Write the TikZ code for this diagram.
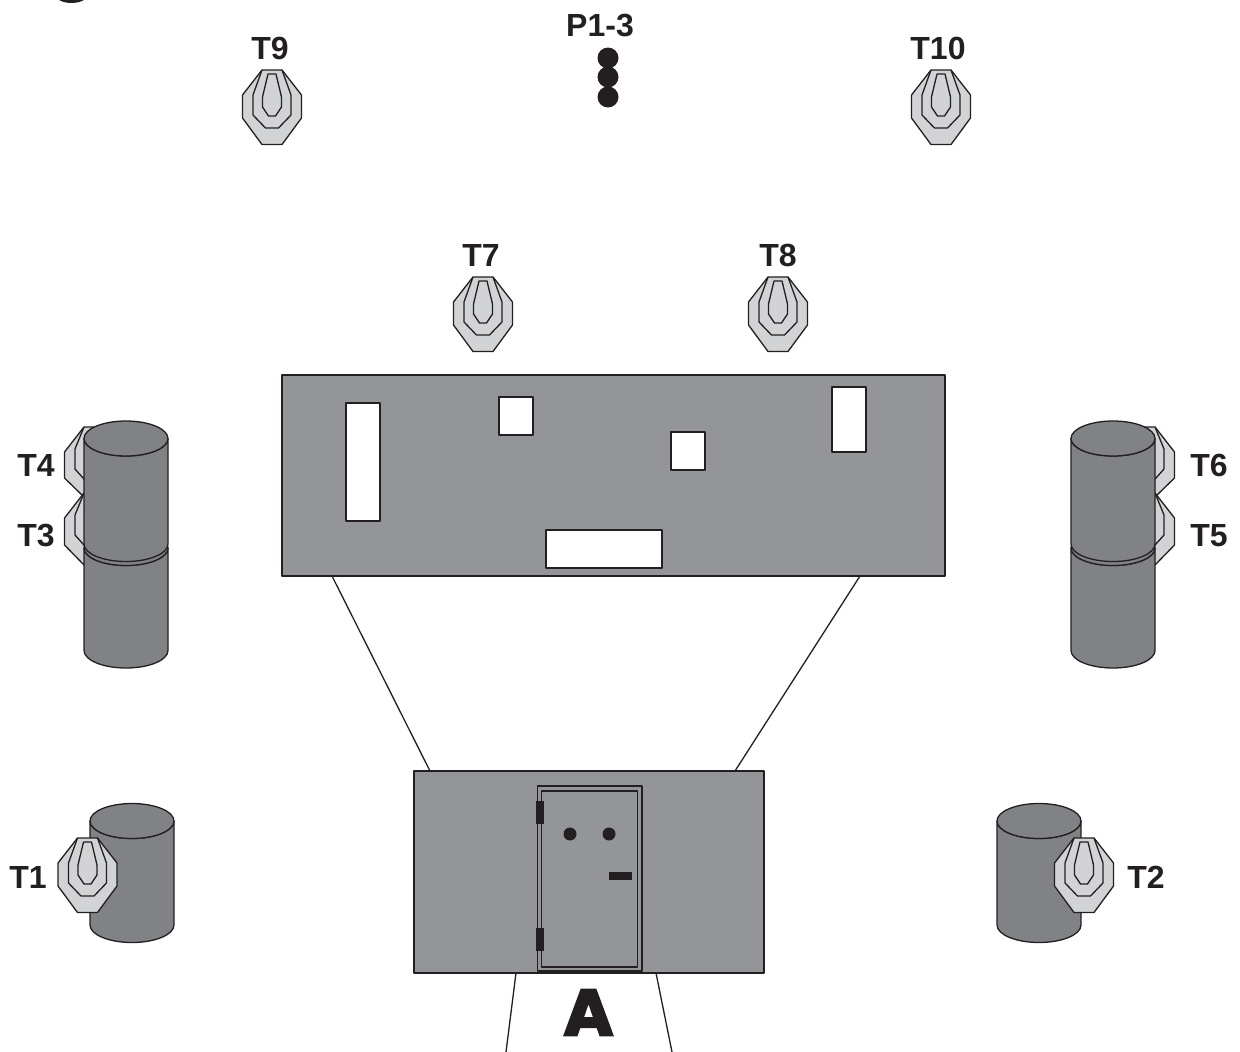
\documentclass[tikz,border=0pt]{standalone}
\usepackage{fontspec}
\setmainfont{Liberation Sans}
\newfontfamily\heavyA{DejaVu Sans}[UprightFont=* Bold,FakeBold=4]
\definecolor{ink}{HTML}{231F20}
\definecolor{wallgray}{HTML}{939598}
\definecolor{drumgray}{HTML}{808285}
\definecolor{targetgray}{HTML}{D1D3D4}
\tikzset{
  outline/.style={draw=ink,line width=1.3pt,line join=round},
  wall/.style={outline,fill=wallgray},
  window/.style={outline,fill=white},
  drum/.style={outline,fill=drumgray},
  label/.style={font=\bfseries\fontsize{32}{32}\selectfont,text=ink,inner sep=0pt,anchor=center},
  shooter/.style={fill=ink},
  target/.pic={
    \draw[outline,fill=targetgray] (-10,0)--(10,0)--(29.5,25)--(29.5,48)--(10,74.5)--(-10,74.5)--(-29.5,48)--(-29.5,25)--cycle;
    \draw[outline] (-10,0)--(-19,25)--(-19,45)--(-6.5,58)--(6.5,58)--(19,45)--(19,25)--(10,0);
    \draw[outline] (-4,4)--(4,4)--(9.5,27)--(9.5,37)--(3.5,46)--(-3.5,46)--(-9.5,37)--(-9.5,27)--cycle;
  }
}
% x, top of ellipse centre y, bottom ellipse centre y
\newcommand{\drumshape}[3]{%
  \draw[drum] (#1,#2) arc [start angle=180,end angle=360,x radius=42pt,y radius=17.5pt]
     -- (#1+84,#3) arc [start angle=360,end angle=180,x radius=42pt,y radius=17.5pt] -- cycle;
  \draw[drum] (#1+42,#2) ellipse [x radius=42pt,y radius=17.5pt];
}
% partly hidden target: centre x, top y, end of the straight side, bottom
\newcommand{\hiddentarget}[4]{%
  \begin{scope}[shift={(#1,#2)}]
    \draw[outline,fill=targetgray] (-10,0)--(10,0)--(29.5,25)--(29.5,#3)--(10,#4)--(-10,#4)--(-29.5,#3)--(-29.5,25)--cycle;
    \draw[outline] (-10,0)--(-19,22)--(-19,42)--(-6.5,56)--(6.5,56)--(19,42)--(19,22)--(10,0);
  \end{scope}
}
\begin{document}
\begin{tikzpicture}[x=1pt,y=-1pt]
\useasboundingbox (0,0) rectangle (1240,1052);
% fragment at the top edge
\fill[ink] (59,0) .. controls (66,4) and (77,4) .. (84,0) -- cycle;
% top row
\pic at (272,70) {target};
\pic at (941,70) {target};
\node[label] (t9) at (270,48) {T9};
\node[label] (t10) at (938,48) {T10};
\node[label] (p13) at (600,26) {P1-3};
\fill[shooter] (608,58) circle [radius=10.5pt] (608,77) circle [radius=10.5pt] (608,97) circle [radius=10.5pt];
% second row
\pic at (483,277) {target};
\pic at (778,277) {target};
\node[label] (t7) at (481,255) {T7};
\node[label] (t8) at (778,255) {T8};
% back wall
\draw[wall] (282,375) rectangle (945,576);
\draw[window] (346,403) rectangle (380,521);
\draw[window] (499,397) rectangle (533,435);
\draw[window] (671,432) rectangle (705,470);
\draw[window] (832,387) rectangle (866,452);
\draw[window] (546,530) rectangle (662,568);
% lines between walls
\draw[outline] (332,576) -- (430,771);
\draw[outline] (860,576) -- (735,771);
\draw[outline] (516,973) -- (506,1052);
\draw[outline] (656,973) -- (672,1052);
% front wall with door
\draw[wall] (414,771) rectangle (764,973);
\draw[outline] (537.5,786) rectangle (642,971);
\draw[outline] (541.7,791) rectangle (637.7,967);
\fill[ink] (536,801) rectangle (544,824);
\fill[ink] (536,928) rectangle (544,951);
\fill[ink] (570,834) circle [radius=6.5pt] (609,834) circle [radius=6.5pt];
\fill[ink] (609,872) rectangle (632,880);
\node[inner sep=0pt,text=ink,font=\heavyA\fontsize{62}{62}\selectfont] (a) at (588.5,1012.5) {A};
% left stack
\hiddentarget{94}{427}{51}{70}
\hiddentarget{94}{493}{52}{72}
\node[label] (t4) at (36,465) {T4};
\node[label] (t3) at (36,536) {T3};
\drumshape{84}{548}{650.5}
\drumshape{84}{438.5}{544}
% right stack
\hiddentarget{1145}{427}{51}{70}
\hiddentarget{1145}{493}{52}{72}
\node[label] (t6) at (1209,465) {T6};
\node[label] (t5) at (1209,536) {T5};
\drumshape{1071}{548}{650.5}
\drumshape{1071}{438.5}{544}
% lower drums
\drumshape{90}{821}{925}
\drumshape{997}{821}{925}
\pic at (87.5,838) {target};
\pic at (1084,838) {target};
\node[label] (t1) at (28,877) {T1};
\node[label] (t2) at (1146,877) {T2};
\end{tikzpicture}
\end{document}
